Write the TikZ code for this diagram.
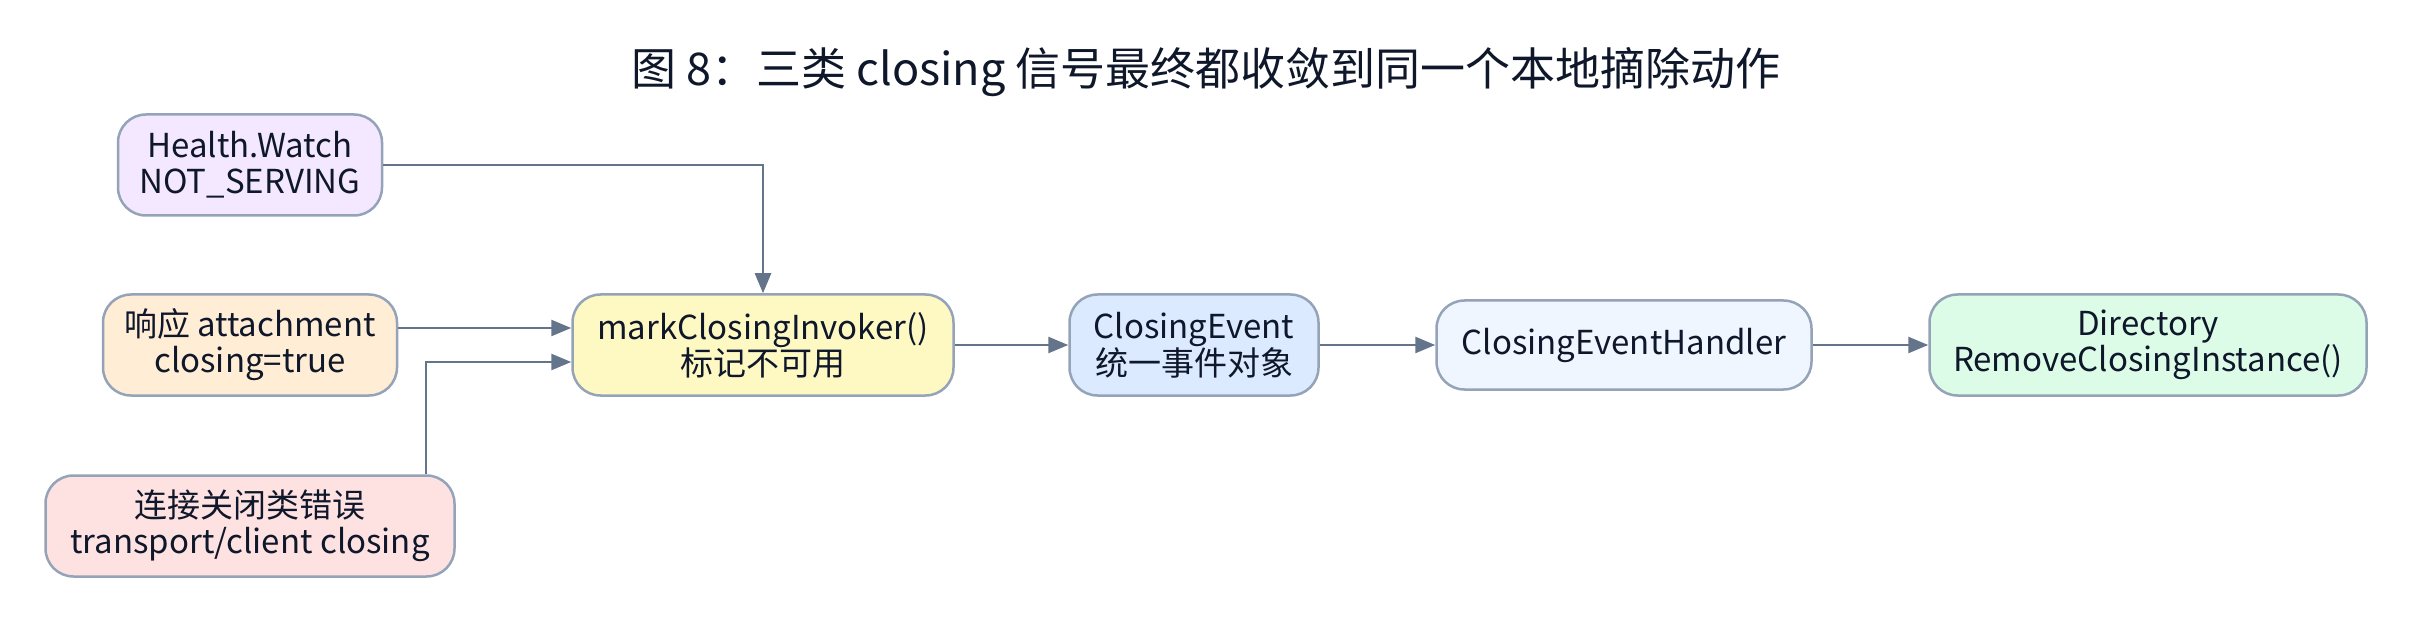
\documentclass[tikz,border=0pt]{standalone}
\usepackage{fontspec}
\setmainfont{Noto Sans CJK SC}
\usetikzlibrary{arrows.meta}
\definecolor{edgec}{HTML}{64748B}
\definecolor{bordc}{HTML}{94A3B8}
\definecolor{txt}{HTML}{0F172A}
\definecolor{lav}{HTML}{F3E8FF}
\definecolor{peach}{HTML}{FFEDD5}
\definecolor{pinkc}{HTML}{FEE2E2}
\definecolor{yel}{HTML}{FEF9C3}
\definecolor{bluec}{HTML}{DBEAFE}
\definecolor{lblue}{HTML}{EFF6FF}
\definecolor{greenc}{HTML}{DCFCE7}
\begin{document}
\begin{tikzpicture}[x=1pt,y=-1pt]
\useasboundingbox (0,0) rectangle (2413,620);
\tikzset{
  box/.style={draw=bordc, line width=2.5pt, rounded corners=28pt, align=center, inner sep=0pt, font=\fontsize{33}{36}\selectfont, text=txt, minimum height=101pt},
  conn/.style={-{Triangle[length=20pt,width=16pt]}, line width=2.5pt, draw=edgec}
}
\node[font=\fontsize{45}{54}\selectfont, text=txt] (title) at (1206,72) {图 8：三类 closing 信号最终都收敛到同一个本地摘除动作};
\node[box, fill=lav, minimum width=264pt] (hw) at (250,165) {Health.Watch\\NOT\_SERVING};
\node[box, fill=peach, minimum width=294pt] (att) at (250,345) {响应 attachment\\closing=true};
\node[box, fill=pinkc, minimum width=409pt] (err) at (250,526) {连接关闭类错误\\transport/client closing};
\node[box, fill=yel, minimum width=381pt] (mark) at (763,345) {markClosingInvoker()\\标记不可用};
\node[box, fill=bluec, minimum width=249pt] (ev) at (1194,345) {ClosingEvent\\统一事件对象};
\node[box, fill=lblue, minimum width=375pt, minimum height=89pt] (hd) at (1624,345) {ClosingEventHandler};
\node[box, fill=greenc, minimum width=437pt] (dir) at (2148,345) {Directory\\RemoveClosingInstance()};
\draw[conn] (hw.east) -| (mark.north);
\draw[conn] ([yshift=17pt]att.east) -- ([yshift=17pt]mark.west);
\draw[conn] ([xshift=176pt]err.north) |- ([yshift=-17pt]mark.west);
\draw[conn] (mark) -- (ev);
\draw[conn] (ev) -- (hd);
\draw[conn] (hd) -- (dir);
\end{tikzpicture}
\end{document}
